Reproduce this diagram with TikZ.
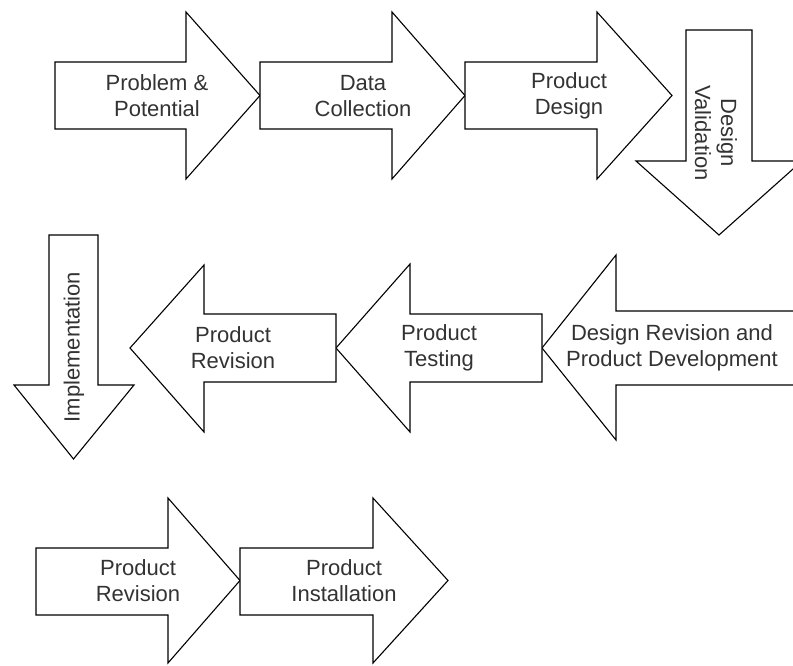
\documentclass[tikz,border=0pt]{standalone}
\usepackage{fontspec}
\setmainfont{Liberation Sans}
\usepackage{tikz}

\begin{document}
\begin{tikzpicture}[x=1pt,y=-1pt,
  blk/.style={draw=black,line width=1.1pt,line join=miter,fill=white},
  txt/.style={align=center,text=black!80,inner sep=0pt,font=\fontsize{22}{26}\selectfont}]
      \clip (0,0) rectangle (793,666);

      % first row, to the right and down
      \draw[blk] (55,62) -- (186,62) -- (186,12) -- (260,95.5) -- (186,179) -- (186,129) -- (55,129) -- cycle;
      \draw[blk] (260,62) -- (392,62) -- (392,12) -- (465,95.5) -- (392,179) -- (392,129) -- (260,129) -- cycle;
      \draw[blk] (465,62) -- (597,62) -- (597,12) -- (672,95.5) -- (597,179) -- (597,129) -- (465,129) -- cycle;
      \draw[blk] (686,30) -- (752,30) -- (752,161) -- (802,161) -- (719,235) -- (636,161) -- (686,161) -- cycle;

      \node [txt] (prob) at (157,96) {Problem \&\\Potential};
      \node [txt] (data) at (363,96) {Data\\Collection};
      \node [txt] (pdes) at (569,96) {Product\\Design};
      \node [txt,rotate=-90] (dval) at (716,133) {Design\\Validation};

      % second row, to the left
      \draw[blk] (802,311) -- (616,311) -- (616,255) -- (542,348) -- (616,440) -- (616,385) -- (802,385) -- cycle;
      \draw[blk] (542,314) -- (410,314) -- (410,264) -- (336,348) -- (410,432) -- (410,382) -- (542,382) -- cycle;
      \draw[blk] (336,314) -- (204,314) -- (204,265) -- (130,348) -- (204,432) -- (204,382) -- (336,382) -- cycle;
      \draw[blk] (49,235) -- (98,235) -- (98,385) -- (134,385) -- (73.5,459) -- (14,385) -- (49,385) -- cycle;

      \node [txt] (drpd) at (672,348) {Design Revision and\\Product Development};
      \node [txt] (ptst) at (439,348) {Product\\Testing};
      \node [txt] (prev) at (233,348) {Product\\Revision};
      \node [txt,rotate=90] (impl) at (74,347) {Implementation};

      % third row
      \draw[blk] (36,548) -- (168,548) -- (168,498) -- (240,580.5) -- (168,663) -- (168,615) -- (36,615) -- cycle;
      \draw[blk] (240,548) -- (373,548) -- (373,498) -- (448,580.5) -- (373,663) -- (373,615) -- (240,615) -- cycle;

      \node [txt] (prev2) at (138,581) {Product\\Revision};
      \node [txt] (pins) at (344,581) {Product\\Installation};

\end{tikzpicture}
\end{document}
